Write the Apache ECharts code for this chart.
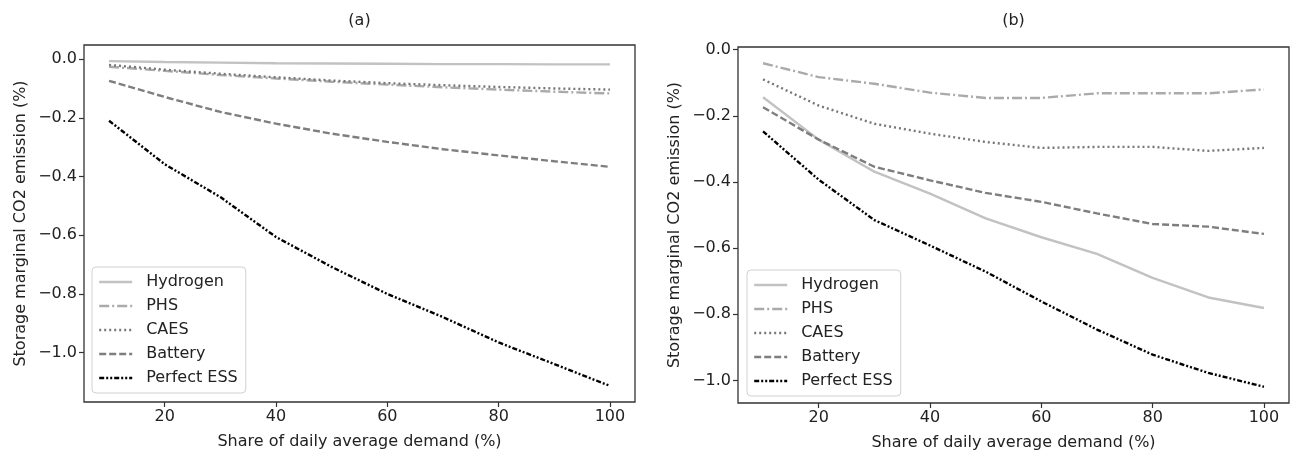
<!DOCTYPE html>
<html>
<head>
<meta charset="utf-8">
<script src="https://cdn.jsdelivr.net/npm/echarts@6/dist/echarts.min.js"></script>
<style>html,body{margin:0;padding:0;background:#fff}#c{width:1292px;height:457px}</style>
</head>
<body>
<div id="c"></div>
<script>
// ---- data ----
const shares = [10, 20, 30, 40, 50, 60, 70, 80, 90, 100];
const seriesNames = ['Hydrogen', 'PHS', 'CAES', 'Battery', 'Perfect ESS'];
// panel (a)
const hydrogenA = [-0.007, -0.010, -0.012, -0.014, -0.015, -0.016, -0.017, -0.017, -0.018, -0.018];
const phsA      = [-0.026, -0.040, -0.054, -0.066, -0.077, -0.087, -0.096, -0.104, -0.111, -0.117];
const caesA     = [-0.020, -0.036, -0.050, -0.062, -0.073, -0.082, -0.089, -0.095, -0.100, -0.104];
const batteryA  = [-0.074, -0.129, -0.180, -0.220, -0.254, -0.282, -0.307, -0.328, -0.348, -0.367];
const perfectA  = [-0.210, -0.358, -0.470, -0.606, -0.708, -0.800, -0.879, -0.965, -1.039, -1.113];
// panel (b)
const hydrogenB = [-0.144, -0.272, -0.369, -0.435, -0.510, -0.567, -0.617, -0.690, -0.749, -0.781];
const phsB      = [-0.041, -0.083, -0.103, -0.130, -0.146, -0.146, -0.132, -0.132, -0.132, -0.120];
const caesB     = [-0.090, -0.169, -0.224, -0.254, -0.279, -0.297, -0.294, -0.294, -0.306, -0.297];
const batteryB  = [-0.174, -0.272, -0.354, -0.395, -0.433, -0.460, -0.495, -0.527, -0.535, -0.557];
const perfectB  = [-0.247, -0.393, -0.515, -0.592, -0.671, -0.761, -0.846, -0.922, -0.977, -1.019];
// ticks
const xTicks = [20, 40, 60, 80, 100];
const yTicks = [0, -0.2, -0.4, -0.6, -0.8, -1.0];
const panelTitles = ['(a)', '(b)'];
const xName = 'Share of daily average demand (%)';
const yName = 'Storage marginal CO2 emission (%)';

// ---- styles ----
const FONT = 'DejaVu Sans';
const TXT = '#222';
const LW = 2.4;
const styles = {
  'Hydrogen':    {color: '#c2c2c2', type: 'solid'},
  'PHS':         {color: '#aaaaaa', type: [10, 3, 2, 3]},
  'CAES':        {color: '#777777', type: [2, 3]},
  'Battery':     {color: '#7e7e7e', type: [7, 3]},
  'Perfect ESS': {color: '#000000', type: [5, 2, 2, 2, 2, 2]}
};
const panelData = [
  [hydrogenA, phsA, caesA, batteryA, perfectA],
  [hydrogenB, phsB, caesB, batteryB, perfectB]
];

const grids = [
  {left: 84, top: 45, width: 551, height: 357},
  {left: 738, top: 47, width: 551, height: 356}
];
const yRanges = [[-1.168, 0.048], [-1.068, 0.008]];

function fmtY(v) {
  if (Math.abs(v) < 1e-9) return '0.0';
  return (v < 0 ? '\u2212' : '') + Math.abs(v).toFixed(1);
}

const option = {
  animation: false,
  backgroundColor: '#fff',
  title: grids.map((g, i) => ({
    text: panelTitles[i],
    left: g.left + g.width / 2,
    textAlign: 'center',
    top: 13,
    padding: 0,
    textStyle: {fontFamily: FONT, fontSize: 16, fontWeight: 'normal', color: TXT}
  })),
  grid: grids.map(g => Object.assign({show: true, borderColor: '#333', borderWidth: 1.3, backgroundColor: 'transparent'}, g)),
  xAxis: grids.map((g, i) => ({
    type: 'value', gridIndex: i, min: 5.5, max: 104.5,
    name: xName, nameLocation: 'middle', nameGap: 32,
    nameTextStyle: {fontFamily: FONT, fontSize: 16, color: TXT},
    axisLine: {show: false, onZero: false},
    axisTick: {show: true, inside: false, length: 5, lineStyle: {color: '#333', width: 1.2}, customValues: xTicks},
    axisLabel: {fontFamily: FONT, fontSize: 16, color: TXT, margin: 7, customValues: xTicks},
    splitLine: {show: false}
  })),
  yAxis: grids.map((g, i) => ({
    type: 'value', gridIndex: i, min: yRanges[i][0], max: yRanges[i][1],
    name: yName, nameLocation: 'middle', nameGap: 55, nameRotate: 90,
    nameTextStyle: {fontFamily: FONT, fontSize: 16, color: TXT},
    axisLine: {show: false, onZero: false},
    axisTick: {show: true, inside: false, length: 5, lineStyle: {color: '#333', width: 1.2}, customValues: yTicks},
    axisLabel: {fontFamily: FONT, fontSize: 16, color: TXT, margin: 7, customValues: yTicks, formatter: fmtY},
    splitLine: {show: false}
  })),
  legend: [
    {left: 92, top: 267},
    {left: 747, top: 270}
  ].map(p => ({
    left: p.left, top: p.top, orient: 'vertical',
    data: seriesNames,
    itemWidth: 33, itemHeight: 10, itemGap: 8,
    padding: [7, 8, 7, 6],
    backgroundColor: 'rgba(255,255,255,0.8)',
    borderColor: '#d0d0d0', borderWidth: 1, borderRadius: 4,
    selectedMode: false,
    itemStyle: {opacity: 0, borderWidth: 0},
    lineStyle: {width: LW},
    textStyle: {fontFamily: FONT, fontSize: 16, color: TXT, padding: [0, 0, 0, 9]}
  })),
  series: []
};

panelData.forEach((arrs, gi) => {
  arrs.forEach((vals, si) => {
    const name = seriesNames[si];
    const st = styles[name];
    option.series.push({
      type: 'line', name: name, xAxisIndex: gi, yAxisIndex: gi,
      data: shares.map((x, k) => [x, vals[k]]),
      symbol: 'none', showSymbol: false, smooth: false,
      lineStyle: {color: st.color, type: st.type, width: LW},
      itemStyle: {color: st.color},
      z: 2
    });
  });
});

const chart = echarts.init(document.getElementById('c'), null, {renderer: 'canvas'});
chart.setOption(option);
</script>
</body>
</html>
